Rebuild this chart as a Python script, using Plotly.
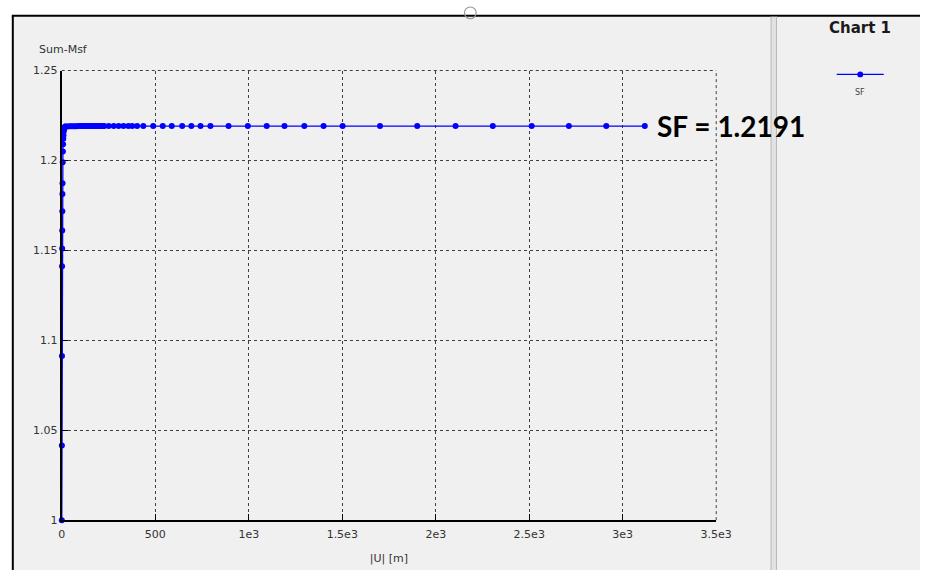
import plotly.graph_objects as go

W, H = 936, 577

# |U| [m] displacement and Sum-Msf values of the SF series
u_disp = [
    0, 0.5, 1, 1.5, 2, 2.5, 3, 3.5, 4, 5, 6, 7, 8, 9, 10, 12, 14, 16, 18,
    20, 30, 40, 50, 60, 70, 80, 90, 100, 110, 120, 130, 140, 150, 160, 170,
    180, 190, 200, 210, 220,
    227, 251, 278, 304, 330, 356, 377, 403,
    436, 489, 540, 588, 644, 693, 742, 795,
    892, 995, 1096, 1191, 1297, 1400, 1502,
    1702, 1901, 2106, 2305, 2513, 2712, 2912, 3118,
]
sum_msf = [
    1.0, 1.0415, 1.0913, 1.1412, 1.1511, 1.161, 1.1718, 1.1814, 1.1873, 1.199,
    1.205, 1.209, 1.212, 1.214, 1.216, 1.217, 1.218, 1.2185, 1.2188,
    1.2189, 1.2189, 1.219, 1.219, 1.219, 1.219, 1.219, 1.2191, 1.2191, 1.2191,
    1.2191, 1.2191, 1.2191, 1.2191, 1.2191, 1.2191, 1.2191, 1.2191, 1.2191,
    1.2191, 1.2191,
    1.2191, 1.2191, 1.2191, 1.2191, 1.2191, 1.2191, 1.2191, 1.2191,
    1.2191, 1.2191, 1.2191, 1.2191, 1.2191, 1.2191, 1.2191, 1.2191,
    1.2191, 1.2191, 1.2191, 1.2191, 1.2191, 1.2191, 1.2191,
    1.2191, 1.2191, 1.2191, 1.2191, 1.2191, 1.2191, 1.2191, 1.2191,
]
sf_final = 1.2191

x_ticks = [0, 500, 1000, 1500, 2000, 2500, 3000, 3500]
x_tick_text = ["0", "500", "1e3", "1.5e3", "2e3", "2.5e3", "3e3", "3.5e3"]
y_ticks = [1.0, 1.05, 1.1, 1.15, 1.2, 1.25]
y_tick_text = ["1", "1.05", "1.1", "1.15", "1.2", "1.25"]


def px(x):
    """Pixel column -> paper fraction."""
    return x / W


def py(y):
    """Pixel row -> paper fraction."""
    return 1 - y / H


BLUE = "#0000ff"
BG = "#f0f0f0"
GRID = "#404040"
GRID_DASH = "3px,3px"

# plot area in pixels
PL, PR, PT, PB = 60, 728, 66, 526

fig = go.Figure()
fig.add_trace(go.Scatter(
    x=u_disp, y=sum_msf, mode="lines+markers", name="SF",
    line=dict(color=BLUE, width=1.3),
    marker=dict(color=BLUE, size=6),
    showlegend=False, cliponaxis=False,
))

axis_font = dict(family="DejaVu Sans", size=11, color="#333333")

fig.update_layout(
    width=W, height=H,
    margin=dict(l=0, r=0, t=0, b=0),
    paper_bgcolor="white",
    plot_bgcolor="rgba(0,0,0,0)",
    xaxis=dict(
        domain=[px(PL), px(PR)], range=[0, 3500],
        tickmode="array", tickvals=x_ticks, ticktext=x_tick_text,
        showgrid=True, gridcolor=GRID, griddash=GRID_DASH, gridwidth=1,
        showline=True, linecolor="black", linewidth=2,
        ticks="inside", ticklen=6, tickcolor="black", tickwidth=1,
        ticklabelstandoff=3,
        zeroline=False, tickfont=axis_font,
        title=dict(text="|U| [m]", font=axis_font, standoff=14),
    ),
    yaxis=dict(
        domain=[py(PB), py(PT)], range=[1.0, 1.25],
        tickmode="array", tickvals=y_ticks, ticktext=y_tick_text,
        showgrid=True, gridcolor=GRID, griddash=GRID_DASH, gridwidth=1,
        showline=True, linecolor="black", linewidth=2,
        ticks="inside", ticklen=6, tickcolor="black", tickwidth=1,
        zeroline=False, tickfont=axis_font,
    ),
)

shapes = [
    # window background and black frame
    dict(type="rect", xref="paper", yref="paper", x0=px(10), x1=1, y0=0, y1=py(10),
         fillcolor=BG, line=dict(width=0), layer="below"),
    dict(type="line", xref="paper", yref="paper", x0=px(9), x1=1, y0=py(10), y1=py(10),
         line=dict(color="black", width=2), layer="above"),
    dict(type="line", xref="paper", yref="paper", x0=px(10), x1=px(10), y0=0, y1=py(10),
         line=dict(color="black", width=2), layer="above"),
    # grid lines on the outer top and right edges of the plot area
    dict(type="line", xref="paper", yref="paper", x0=px(PL), x1=px(PR), y0=py(PT), y1=py(PT),
         line=dict(color=GRID, width=1, dash=GRID_DASH), layer="below"),
    dict(type="line", xref="paper", yref="paper", x0=px(PR), x1=px(PR), y0=py(PB), y1=py(PT),
         line=dict(color=GRID, width=1, dash=GRID_DASH), layer="below"),
    # splitter between chart and legend panel
    dict(type="rect", xref="paper", yref="paper", x0=px(784), x1=px(790), y0=0, y1=py(11),
         fillcolor="#e2e2e2", line=dict(width=0), layer="above"),
    dict(type="line", xref="paper", yref="paper", x0=px(784), x1=px(784), y0=0, y1=py(11),
         line=dict(color="#b8b8b8", width=1), layer="above"),
    dict(type="line", xref="paper", yref="paper", x0=px(789.5), x1=px(789.5), y0=0, y1=py(11),
         line=dict(color="#b8b8b8", width=1), layer="above"),
    # small handle at the top edge
    dict(type="circle", xref="paper", yref="paper", x0=px(471), x1=px(483), y0=py(13), y1=py(1),
         line=dict(color="#9a9a9a", width=1.2), fillcolor="rgba(0,0,0,0)", layer="above"),
    # legend sample for SF
    dict(type="line", xref="paper", yref="paper", x0=px(851), x1=px(899), y0=py(70), y1=py(70),
         line=dict(color=BLUE, width=1.3), layer="above"),
    dict(type="circle", xref="paper", yref="paper", x0=px(872), x1=px(878), y0=py(73), y1=py(67),
         fillcolor=BLUE, line=dict(color=BLUE, width=0), layer="above"),
]
fig.update_layout(shapes=shapes)

annotations = [
    dict(text="Sum-Msf", xref="paper", yref="paper", x=px(35), y=py(45),
         xanchor="left", yanchor="middle", showarrow=False, font=axis_font),
    dict(text="<b>Chart 1</b>", xref="paper", yref="paper", x=px(875), y=py(23),
         xanchor="center", yanchor="middle", showarrow=False,
         font=dict(family="DejaVu Sans", size=15, color="#1a1a1a")),
    dict(text="SF", xref="paper", yref="paper", x=px(875), y=py(88),
         xanchor="center", yanchor="middle", showarrow=False,
         font=dict(family="DejaVu Sans", size=8, color="#444444")),
    dict(text="<b>SF = %.4f</b>" % sf_final, x=u_disp[-1], y=sf_final, xref="x", yref="y",
         xanchor="left", yanchor="middle", xshift=10, showarrow=False,
         font=dict(family="Lato", size=28, color="black")),
]
fig.update_layout(annotations=annotations)

fig.write_html("out.html")
